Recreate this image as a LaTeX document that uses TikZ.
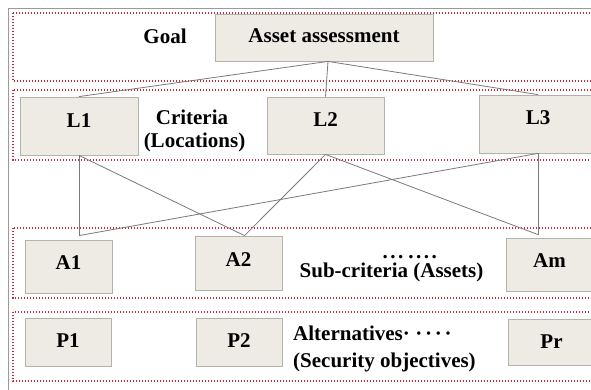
\documentclass[tikz,border=0pt]{standalone}
\usepackage{fontspec}
\setmainfont{Liberation Serif}
\usetikzlibrary{calc}
\definecolor{boxfill}{HTML}{EDEBE3}
\definecolor{boxline}{HTML}{B3B3AB}
\definecolor{conn}{HTML}{7A7A7A}
\definecolor{band}{HTML}{C42B3A}
\definecolor{frame}{HTML}{9A9A9A}
\tikzset{
  lbl/.style={font=\fontsize{21}{23}\selectfont\bfseries, inner sep=0pt, anchor=base},
  elem/.style={draw=boxline, fill=boxfill, line width=0.8pt, inner sep=0pt,
    font=\fontsize{21}{23}\selectfont\bfseries},
  bandline/.style={draw=band, line width=1.5pt, dash pattern=on 1.4pt off 1.6pt},
  link/.style={draw=conn, line width=0.8pt}
}
\begin{document}
\begin{tikzpicture}[x=1pt,y=-1pt]
\useasboundingbox (0,0) rectangle (591,390);
\clip (0,0) rectangle (591,390);
\fill[white] (0,0) rectangle (591,390);
% outer frame
\draw[frame, line width=1pt] (8,9) rectangle (640,430);
% bands
\draw[bandline] (13,13) rectangle (640,81);
\draw[bandline] (13,90) rectangle (640,160);
\draw[bandline] (13,228) rectangle (640,298);
\draw[bandline] (13,312) rectangle (640,381);
% boxes
\node[elem, minimum width=218pt, minimum height=47pt, text depth=4pt] (G) at (324,37.5) {Asset assessment};
\node[elem, minimum width=118pt, minimum height=58pt, text depth=11pt] (L1) at (79,126) {L1};
\node[elem, minimum width=117pt, minimum height=57pt, text depth=11pt] (L2) at (325.5,125.5) {L2};
\node[elem, minimum width=118pt, minimum height=58pt, text depth=12pt] (L3) at (538,124) {L3};
\node[elem, minimum width=87pt, minimum height=53pt, text depth=8pt] (A1) at (68.5,266.5) {A1};
\node[elem, minimum width=87pt, minimum height=54pt, text depth=6pt] (A2) at (238.5,263) {A2};
\node[elem, minimum width=87pt, minimum height=53pt, text depth=8pt] (Am) at (549.5,264.5) {Am};
\node[elem, minimum width=86pt, minimum height=48pt, text depth=3pt] (P1) at (68,342) {P1};
\node[elem, minimum width=86pt, minimum height=48pt, text depth=3pt] (P2) at (239,342) {P2};
\node[elem, minimum width=87pt, minimum height=46pt, text depth=1pt] (Pr) at (551.5,342) {Pr};
% labels
\node[lbl] (goal) at (165,44) {Goal};
\node[lbl] (crit1) at (192,125) {Criteria};
\node[lbl] (crit2) at (194.5,148) {(Locations)};
\node[lbl] (sub) at (391.5,277) {Sub-criteria (Assets)};
\node[lbl, anchor=base west] (subdots) at (382.5,258) {.\hspace{2.5pt}.\hspace{2.5pt}.\hspace{5pt}.\hspace{2.5pt}.\hspace{2.5pt}.\hspace{2.5pt}.};
\node[lbl, anchor=base west] (alt1) at (293,340) {Alternatives·\hspace{5.5pt}·\hspace{2.8pt}·\hspace{2.8pt}·\hspace{2.8pt}·};
\node[lbl, anchor=base west] (alt2) at (293,367) {(Security objectives)};
% connector end points
\coordinate (a1c) at ([yshift=4pt]L1.south |- A1.north);
\coordinate (a2c) at ([xshift=6pt]A2.north);
\coordinate (amc) at ([yshift=3pt]L3.south |- Am.north);
% connectors
\draw[link] ([xshift=4pt]G.south) -- (L1.north);
\draw[link] ([xshift=4pt]G.south) -- (L2.north);
\draw[link] ([xshift=4pt]G.south) -- (L3.north);
\draw[link] (L1.south) -- (a1c);
\draw[link] (a1c) -- (L3.south);
\draw[link] (L1.south) -- (a2c);
\draw[link] (L2.south) -- (a2c);
\draw[link] (L2.south) -- (amc);
\draw[link] (L3.south) -- (amc);
\end{tikzpicture}
\end{document}
